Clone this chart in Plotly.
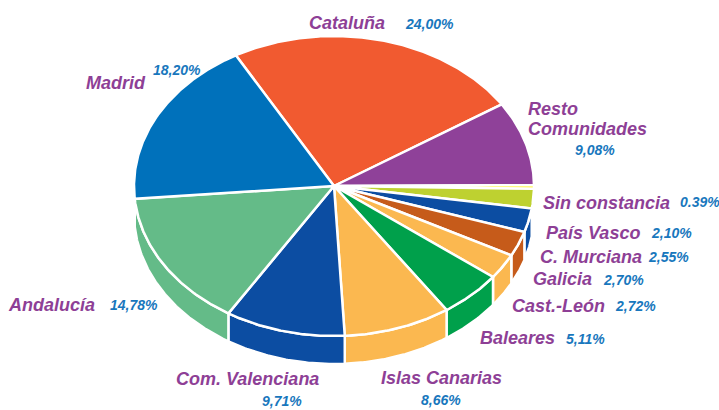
import numpy as np
import plotly.graph_objects as go

# ---- data ----
categories = ["Cataluña", "Resto Comunidades", "Sin constancia", "País Vasco",
              "C. Murciana", "Galicia", "Cast.-León", "Baleares",
              "Islas Canarias", "Com. Valenciana", "Andalucía", "Madrid"]
values = [24.00, 9.08, 0.39, 2.10, 2.55, 2.70, 2.72, 5.11, 8.66, 9.71, 14.78, 18.20]
pct_labels = ["24,00%", "9,08%", "0.39%", "2,10%", "2,55%", "2,70%", "2,72%",
              "5,11%", "8,66%", "9,71%", "14,78%", "18,20%"]
colors = ["#f15a30", "#8f4199", "#fff200", "#bed130", "#0c4da2", "#c65b1a",
          "#fbb850", "#00a04b", "#fbb850", "#0c4da2", "#64bb88", "#0071bb"]

# ---- layout / style (not data) ----
W, H = 719, 410
CX, CY, RX, RY, DEPTH = 334, 186, 200, 150, 28
START = 119.4  # degrees, slices go clockwise
NAME_COLOR = "#8e3f96"
PCT_COLOR = "#1877bd"

# label anchor positions (left x, middle y) for name and percentage
name_pos = {
    "Cataluña": (307, 23), "Sin constancia": (541, 203),
    "País Vasco": (544, 233), "C. Murciana": (538, 257), "Galicia": (531, 279),
    "Cast.-León": (510, 306), "Baleares": (478, 338), "Islas Canarias": (379, 378),
    "Com. Valenciana": (174, 379), "Andalucía": (6, 305), "Madrid": (84, 83),
}
pct_pos = {
    "Cataluña": (403, 24), "Resto Comunidades": (573, 150), "Sin constancia": (678, 202),
    "País Vasco": (649, 233), "C. Murciana": (646, 257), "Galicia": (601, 280),
    "Cast.-León": (613, 306), "Baleares": (564, 339), "Islas Canarias": (419, 400),
    "Com. Valenciana": (260, 401), "Andalucía": (108, 305), "Madrid": (151, 70),
}


def ellipse_pt(deg, dy=0.0):
    t = np.radians(deg)
    return CX + RX * np.cos(t), CY - RY * np.sin(t) + dy


fig = go.Figure()

total = sum(values)
bounds = []
acc = 0.0
for v in values:
    a0 = START - acc / total * 360.0
    acc += v
    a1 = START - acc / total * 360.0
    bounds.append((a0, a1))

# side walls (front half only: angles in [-180, 0])
for (a0, a1), col in zip(bounds, colors):
    hi = min(a0, 0.0)
    lo = max(a1, -180.0)
    if hi <= lo:
        continue
    angs = np.linspace(hi, lo, max(int((hi - lo) * 2) + 2, 3))
    tx, ty = ellipse_pt(angs)
    bx, by = ellipse_pt(angs[::-1], DEPTH)
    xs = np.concatenate([tx, bx, tx[:1]])
    ys = np.concatenate([ty, by, ty[:1]])
    fig.add_trace(go.Scatter(x=xs, y=ys, mode="lines", fill="toself",
                             fillcolor=col, line=dict(color="white", width=2.5),
                             hoverinfo="skip", showlegend=False))

# top faces
for (a0, a1), col, name in zip(bounds, colors, categories):
    angs = np.linspace(a0, a1, max(int((a0 - a1) * 2) + 2, 3))
    ax_, ay_ = ellipse_pt(angs)
    xs = np.concatenate([[CX], ax_, [CX]])
    ys = np.concatenate([[CY], ay_, [CY]])
    fig.add_trace(go.Scatter(x=xs, y=ys, mode="lines", fill="toself",
                             fillcolor=col, line=dict(color="white", width=2.5),
                             name=name, hoverinfo="name", showlegend=False))

name_font = dict(family="Liberation Sans, Arial, sans-serif", size=18,
                 color=NAME_COLOR, weight="bold", style="italic")
pct_font = dict(family="Liberation Sans, Arial, sans-serif", size=14,
                color=PCT_COLOR, weight="bold", style="italic")

for name, pct in zip(categories, pct_labels):
    if name == "Resto Comunidades":
        fig.add_annotation(x=527, y=109, text="Resto", showarrow=False,
                           xanchor="left", yanchor="middle", font=name_font,
                           borderpad=0)
        fig.add_annotation(x=527, y=129, text="Comunidades", showarrow=False,
                           xanchor="left", yanchor="middle", font=name_font,
                           borderpad=0)
    else:
        x, y = name_pos[name]
        fig.add_annotation(x=x, y=y, text=name, showarrow=False,
                           xanchor="left", yanchor="middle", font=name_font)
    x, y = pct_pos[name]
    fig.add_annotation(x=x, y=y, text=pct, showarrow=False,
                       xanchor="left", yanchor="middle", font=pct_font)

fig.update_layout(
    width=W, height=H, autosize=False,
    margin=dict(l=0, r=0, t=0, b=0),
    paper_bgcolor="white", plot_bgcolor="white",
    xaxis=dict(range=[0, W], visible=False, fixedrange=True),
    yaxis=dict(range=[H, 0], visible=False, fixedrange=True),
)

fig.write_html("out.html", config={"displayModeBar": False},
               post_script="document.body.style.margin='0';document.body.style.overflow='hidden';")
